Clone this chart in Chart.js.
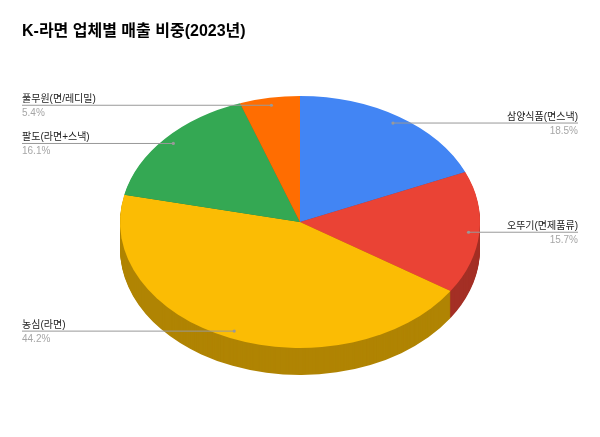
<!DOCTYPE html>
<html lang="ko">
<head>
<meta charset="utf-8">
<title>K-라면 업체별 매출 비중(2023년)</title>
<script src="https://cdn.jsdelivr.net/npm/chart.js@4"></script>
<style>
  html, body { margin: 0; padding: 0; background: #fff; }
  canvas { display: block; }
</style>
</head>
<body>
<canvas id="myChart" width="600" height="437"></canvas>
<script>
const chartTitle = 'K-라면 업체별 매출 비중(2023년)';
const categories = ['삼양식품(면스낵)', '오뚜기(면제품류)', '농심(라면)', '팔도(라면+스낵)', '풀무원(면/레디밀)'];
const shares = [18.5, 15.7, 44.2, 16.1, 5.4];
const shareLabels = ['18.5%', '15.7%', '44.2%', '16.1%', '5.4%'];
const topColors = ['#4285f4', '#ea4335', '#fbbc04', '#34a853', '#ff6d01'];
const sideColors = ['#2e5daa', '#a42f25', '#b08403', '#24753a', '#b34c01'];

const FONT = '"Liberation Sans", "Noto Sans CJK KR", sans-serif';
// bentuk elips pie + tebal sisi
const CX = 300, CY = 222, RX = 180, RY = 126, DEPTH = 27;
const ANCHOR = 0.94;

function applyTilt(ctx, arc, offsetY) {
    const r = arc.outerRadius;
    ctx.translate(CX, CY + offsetY);
    ctx.scale(RX / r, RY / r);
    ctx.translate(-arc.x, -arc.y);
}

const tiltedPie = {
    id: 'tiltedPie',
    beforeDatasetsDraw(chart) {
        const ctx = chart.ctx;
        const arcs = chart.getDatasetMeta(0).data;
        // sisi bawah: ditumpuk dari bawah ke atas
        for (let d = DEPTH; d > 0; d--) {
            arcs.forEach((arc, i) => {
                ctx.save();
                applyTilt(ctx, arc, d);
                ctx.beginPath();
                ctx.moveTo(arc.x, arc.y);
                ctx.arc(arc.x, arc.y, arc.outerRadius, arc.startAngle, arc.endAngle);
                ctx.closePath();
                ctx.fillStyle = sideColors[i];
                ctx.fill();
                ctx.restore();
            });
        }
        ctx.save();
        applyTilt(ctx, arcs[0], 0);
    },
    afterDatasetsDraw(chart) {
        chart.ctx.restore();
    },
    afterDraw(chart) {
        const ctx = chart.ctx;
        const arcs = chart.getDatasetMeta(0).data;
        arcs.forEach((arc, i) => {
            const mid = (arc.startAngle + arc.endAngle) / 2;
            const ax = CX + Math.cos(mid) * RX * ANCHOR;
            const ay = CY + Math.sin(mid) * RY * ANCHOR;
            const onRight = ax > CX;
            const endX = onRight ? 578 : 22;

            ctx.strokeStyle = '#999999';
            ctx.lineWidth = 1;
            ctx.beginPath();
            ctx.moveTo(ax, ay);
            ctx.lineTo(endX, ay);
            ctx.stroke();
            ctx.fillStyle = '#999999';
            ctx.beginPath();
            ctx.arc(ax, ay, 1.6, 0, Math.PI * 2);
            ctx.fill();

            ctx.textAlign = onRight ? 'right' : 'left';
            ctx.textBaseline = 'alphabetic';
            ctx.font = '10px ' + FONT;
            ctx.fillStyle = '#222222';
            ctx.fillText(categories[i], endX, ay - 3);
            ctx.fillStyle = '#a6a6a6';
            ctx.fillText(shareLabels[i], endX, ay + 11);
        });
    }
};

new Chart(document.getElementById('myChart'), {
    type: 'pie',
    data: {
        labels: categories,
        datasets: [{
            data: shares,
            backgroundColor: topColors,
            borderWidth: 0,
            clip: false
        }]
    },
    options: {
        responsive: false,
        animation: false,
        layout: { padding: { left: 22, top: 22, right: 22, bottom: 22 } },
        plugins: {
            legend: { display: false },
            tooltip: { enabled: false },
            title: {
                display: true,
                text: chartTitle,
                align: 'start',
                color: '#000000',
                font: { family: FONT, size: 16, weight: 'bold' },
                padding: { top: 0, bottom: 10 }
            }
        }
    },
    plugins: [tiltedPie]
});
</script>
</body>
</html>
